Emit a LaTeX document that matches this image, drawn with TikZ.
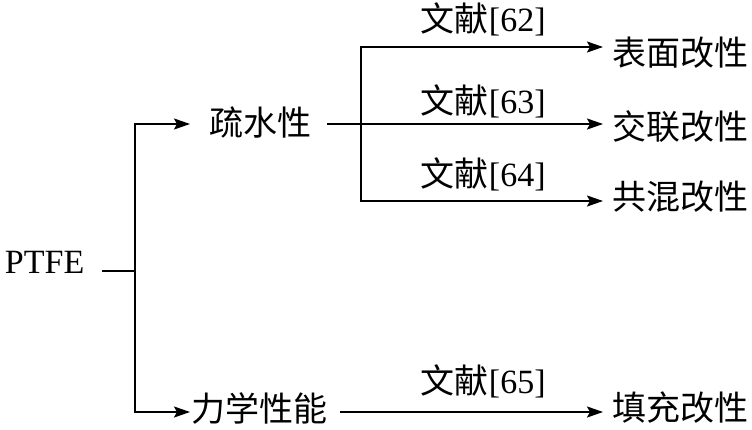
\documentclass[tikz,border=0pt]{standalone}
\usepackage{fontspec}
\setmainfont{Liberation Serif}
\newfontfamily\cjk{Noto Sans CJK SC}
\usetikzlibrary{arrows.meta}
\begin{document}
\begin{tikzpicture}[x=1pt,y=-1pt,line width=1.9pt,
  lbl/.style={inner sep=0pt,anchor=base west,font=\fontsize{34}{38}\selectfont},
  arr/.style={-{Stealth[length=16pt,width=11pt,inset=3pt]}}]
\useasboundingbox (0,0) rectangle (752,429);
% nodes
\node[lbl] (ptfe) at (4,273) {PTFE};
\node[lbl] (shui) at (209,135) {\cjk 疏水性};
\node[lbl] (lixue) at (191,421) {\cjk 力学性能};
\node[lbl] (bm) at (612,65) {\cjk 表面改性};
\node[lbl] (jl) at (612,139) {\cjk 交联改性};
\node[lbl] (gh) at (612,209) {\cjk 共混改性};
\node[lbl] (tc) at (612,420) {\cjk 填充改性};
\node[lbl] (r62) at (420,31) {{\cjk 文献}[62]};
\node[lbl] (r63) at (420,113) {{\cjk 文献}[63]};
\node[lbl] (r64) at (420,186) {{\cjk 文献}[64]};
\node[lbl] (r65) at (420,393) {{\cjk 文献}[65]};
% junction coordinates
\coordinate (j0) at (102,271);
\coordinate (j1) at (135,271);
\coordinate (a1) at (190,124);
\coordinate (a2) at (190,412);
\coordinate (s0) at (327,124);
\coordinate (j2) at (361,124);
\coordinate (t1) at (603,47);
\coordinate (t2) at (603,124);
\coordinate (t3) at (603,201);
\coordinate (l0) at (340,412);
\coordinate (t4) at (603,412);
% connectors
\draw (j0) -- (j1);
\draw[arr] (j1) |- (a1);
\draw[arr] (j1) |- (a2);
\draw[arr] (s0) -- (t2);
\draw[arr] (j2) |- (t1);
\draw[arr] (j2) |- (t3);
\draw[arr] (l0) -- (t4);
\end{tikzpicture}
\end{document}
